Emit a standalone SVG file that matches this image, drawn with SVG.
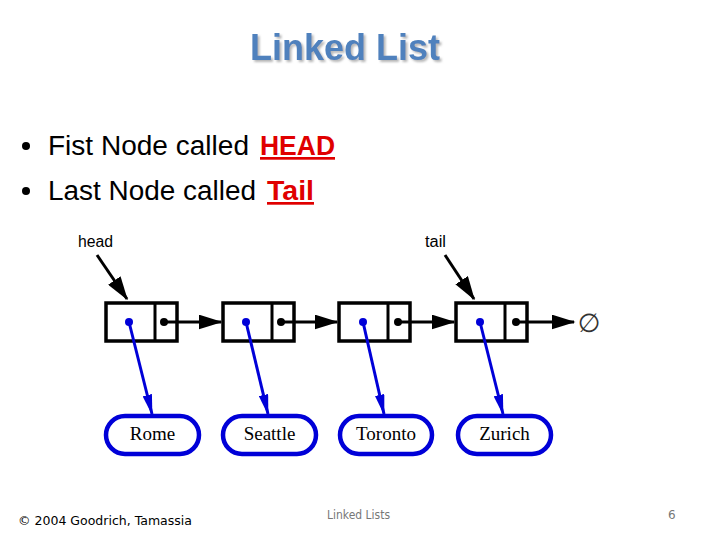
<svg xmlns="http://www.w3.org/2000/svg" width="720" height="540" viewBox="0 0 720 540">
<style>
.title{font-family:"Liberation Sans",Arial,sans-serif;font-weight:bold;font-size:36px;fill:#4F81BD}
.bul{font-family:"Liberation Sans",Arial,sans-serif;font-size:27px;fill:#000}
.red{font-family:"Liberation Sans",Arial,sans-serif;font-size:27px;font-weight:bold;fill:#E00000;text-decoration:underline}
.lbl{font-family:"Liberation Sans",Arial,sans-serif;font-size:16px;fill:#000}
.city{font-family:"Liberation Serif","Times New Roman",serif;font-size:19px;fill:#000}
.box{fill:#fff;stroke:#000;stroke-width:3.5}
.oval{fill:#fff;stroke:#0000D8;stroke-width:4.5}
.blk{stroke:#000;stroke-width:3;fill:none}
.blu{stroke:#0000D8;stroke-width:3;fill:none}
.foot{font-family:"DejaVu Sans",Tahoma,sans-serif;font-size:12px;fill:#000}
.gray{font-family:"DejaVu Sans",Tahoma,sans-serif;font-size:12px;fill:#777}
</style>
<defs>
<filter id="sh" x="-10%" y="-20%" width="120%" height="150%">
<feDropShadow dx="2" dy="2" stdDeviation="0.8" flood-color="#999" flood-opacity="0.7"/>
</filter>
<marker id="ab" markerWidth="8" markerHeight="5" refX="7.5" refY="2.5" orient="auto" markerUnits="strokeWidth"><path d="M0,0 L8,2.5 L0,5 z" fill="#000"/></marker>
<marker id="au" markerWidth="7" markerHeight="3.2" refX="6.5" refY="1.6" orient="auto" markerUnits="strokeWidth"><path d="M0,0 L7,1.6 L0,3.2 z" fill="#0000D8"/></marker>
</defs>
<rect width="720" height="540" fill="#fff"/>
<g id="title">
<text class="title" x="345" y="60" text-anchor="middle" filter="url(#sh)">Linked List</text>
</g>
<g id="bullets">
<circle cx="26" cy="146" r="4" fill="#000"/>
<text class="bul" x="48" y="155" textLength="201" lengthAdjust="spacingAndGlyphs">Fist Node called</text>
<text class="red" x="260" y="155" textLength="75" lengthAdjust="spacingAndGlyphs">HEAD</text>
<circle cx="26" cy="191" r="4" fill="#000"/>
<text class="bul" x="48" y="200" textLength="208" lengthAdjust="spacingAndGlyphs">Last Node called</text>
<text class="red" x="267" y="200" textLength="47" lengthAdjust="spacingAndGlyphs">Tail</text>
</g>
<g id="head">
<text class="lbl" x="78" y="247" textLength="35" lengthAdjust="spacingAndGlyphs">head</text>
</g>
<g id="tail">
<text class="lbl" x="425" y="247" textLength="21" lengthAdjust="spacingAndGlyphs">tail</text>
</g>
<g id="node1">
<rect class="box" x="106" y="303" width="71" height="38"/>
<line x1="155" y1="303" x2="155" y2="341" stroke="#000" stroke-width="3"/>
</g>
<g id="node2">
<rect class="box" x="223" y="303" width="71" height="38"/>
<line x1="272" y1="303" x2="272" y2="341" stroke="#000" stroke-width="3"/>
</g>
<g id="node3">
<rect class="box" x="339" y="303" width="71" height="38"/>
<line x1="388" y1="303" x2="388" y2="341" stroke="#000" stroke-width="3"/>
</g>
<g id="node4">
<rect class="box" x="456" y="303" width="71" height="38"/>
<line x1="505" y1="303" x2="505" y2="341" stroke="#000" stroke-width="3"/>
</g>
<g id="null">
<text x="589" y="332" text-anchor="middle" font-family="DejaVu Sans,sans-serif" font-size="26" fill="#333">∅</text>
</g>
<g id="rome"><rect class="oval" x="106" y="416" width="93" height="38" rx="19"/><text class="city" x="152.5" y="440" text-anchor="middle">Rome</text></g>
<g id="seattle"><rect class="oval" x="223" y="416" width="93" height="38" rx="19"/><text class="city" x="269.5" y="440" text-anchor="middle">Seattle</text></g>
<g id="toronto"><rect class="oval" x="340" y="416" width="92" height="38" rx="19"/><text class="city" x="386" y="440" text-anchor="middle">Toronto</text></g>
<g id="zurich"><rect class="oval" x="458" y="416" width="93" height="38" rx="19"/><text class="city" x="504.5" y="440" text-anchor="middle">Zurich</text></g>
<g id="connectors">
<line class="blk" x1="97" y1="255" x2="127" y2="299" stroke-width="4" marker-end="url(#ab)"/>
<line class="blk" x1="445" y1="255" x2="474" y2="299" stroke-width="4" marker-end="url(#ab)"/>
<circle cx="164" cy="322" r="4" fill="#000"/>
<line class="blk" x1="164" y1="322" x2="221" y2="322" marker-end="url(#ab)"/>
<circle cx="281" cy="322" r="4" fill="#000"/>
<line class="blk" x1="281" y1="322" x2="337" y2="322" marker-end="url(#ab)"/>
<circle cx="398" cy="322" r="4" fill="#000"/>
<line class="blk" x1="398" y1="322" x2="454" y2="322" marker-end="url(#ab)"/>
<circle cx="516" cy="322" r="4" fill="#000"/>
<line class="blk" x1="516" y1="322" x2="574" y2="322" marker-end="url(#ab)"/>
<circle cx="129" cy="322" r="4" fill="#0000D8"/>
<line class="blu" x1="129" y1="322" x2="152" y2="414" marker-end="url(#au)"/>
<circle cx="246" cy="322" r="4" fill="#0000D8"/>
<line class="blu" x1="246" y1="322" x2="268" y2="414" marker-end="url(#au)"/>
<circle cx="363" cy="322" r="4" fill="#0000D8"/>
<line class="blu" x1="363" y1="322" x2="384" y2="414" marker-end="url(#au)"/>
<circle cx="480" cy="322" r="4" fill="#0000D8"/>
<line class="blu" x1="480" y1="322" x2="503" y2="414" marker-end="url(#au)"/>
</g>
<g id="footer">
<text class="foot" x="18" y="525" textLength="174" lengthAdjust="spacingAndGlyphs">© 2004 Goodrich, Tamassia</text>
<text class="gray" x="327" y="519" textLength="63" lengthAdjust="spacingAndGlyphs">Linked Lists</text>
<text class="gray" x="668" y="519">6</text>
</g>
</svg>
